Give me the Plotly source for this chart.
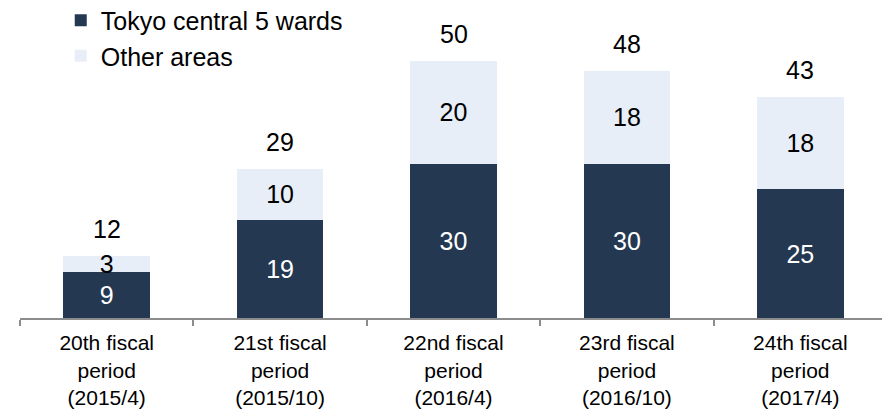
import plotly.graph_objects as go

categories = ["20th fiscal<br>period<br>(2015/4)", "21st fiscal<br>period<br>(2015/10)",
              "22nd fiscal<br>period<br>(2016/4)", "23rd fiscal<br>period<br>(2016/10)",
              "24th fiscal<br>period<br>(2017/4)"]
tokyo5 = [9, 19, 30, 30, 25]
other = [3, 10, 20, 18, 18]
totals = [12, 29, 50, 48, 43]

FONT = "Liberation Sans, Arial, sans-serif"
DARK = "#253852"
LIGHT = "#E8EEF7"

fig = go.Figure()
fig.add_trace(go.Bar(x=categories, y=tokyo5, name="Tokyo central 5 wards",
                     marker=dict(color=DARK, line=dict(width=0)),
                     text=tokyo5, textposition="inside", insidetextanchor="middle",
                     textangle=0,
                     textfont=dict(color="white", size=25, family=FONT)))
fig.add_trace(go.Bar(x=categories, y=other, name="Other areas",
                     marker=dict(color=LIGHT, line=dict(width=0)),
                     text=other, textposition="inside", insidetextanchor="middle",
                     textangle=0,
                     textfont=dict(color="black", size=25, family=FONT)))

for c, t in zip(categories, totals):
    fig.add_annotation(x=c, y=t, text=str(t), showarrow=False, yanchor="bottom",
                       yshift=11, font=dict(size=25, color="black", family=FONT))

# page body has an 8px default margin: figure is sized/offset to compensate
fig.update_layout(
    width=882, height=401,
    margin=dict(l=12, r=3, t=1, b=91, autoexpand=False),
    barmode="stack", bargap=0.5,
    plot_bgcolor="white", paper_bgcolor="white",
    font=dict(family=FONT, color="black"),
    uniformtext=dict(minsize=25, mode="show"),
    showlegend=True,
    legend=dict(x=0.047, y=1.037, xanchor="left", yanchor="top", traceorder="normal",
                font=dict(size=25, family=FONT, color="black"),
                bgcolor="rgba(0,0,0,0)", itemclick=False, tracegroupgap=0),
    xaxis=dict(showline=True, linecolor="#8c8c8c", linewidth=2,
               ticks="outside", tickson="boundaries", ticklen=6, tickcolor="#8c8c8c",
               tickwidth=2, ticklabelstandoff=5,
               tickfont=dict(size=21, family=FONT, color="black"),
               showgrid=False),
    yaxis=dict(range=[0, 60], visible=False, showgrid=False, zeroline=False),
)

fig.write_html("out.html")
